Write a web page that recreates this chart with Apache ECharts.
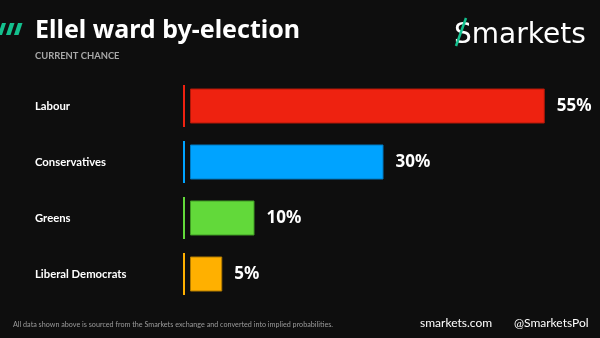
<!DOCTYPE html>
<html><head><meta charset="utf-8">
<script src="https://cdn.jsdelivr.net/npm/echarts@6/dist/echarts.min.js"></script>
<style>html,body{margin:0;padding:0;background:#0e0e0e;}#c{width:600px;height:338px;}</style>
</head><body><div id="c"></div>
<script>
const categories = ['Labour', 'Conservatives', 'Greens', 'Liberal Democrats'];
const values = [55, 30, 10, 5];
const colors = ['#ee2210', '#00a3ff', '#62d93a', '#ffb000'];
const borders = ['#b01808', '#0078bf', '#3f9a22', '#b07a00'];
const FONT = 'Lato';

const chart = echarts.init(document.getElementById('c'), null, {renderer: 'canvas'});
chart.setOption({
  backgroundColor: '#0e0e0e',
  animation: false,
  grid: {left: 190, top: 78, height: 224, width: 387},
  xAxis: {type: 'value', min: 0, max: 60, show: false},
  yAxis: {
    type: 'category', data: categories, inverse: true,
    axisLine: {show: false}, axisTick: {show: false},
    axisLabel: {align: 'left', margin: 155, color: '#ffffff', fontFamily: FONT, fontWeight: 'bold', fontSize: 11.3}
  },
  series: [
    {
      type: 'bar', data: values.map((v, i) => ({value: v, itemStyle: {color: colors[i], borderColor: borders[i], borderWidth: 1}})),
      barWidth: 35,
      label: {show: true, position: 'right', distance: 12, formatter: '{c}%', color: '#ffffff', fontFamily: 'Noto Sans', fontWeight: 'bold', fontSize: 17}
    },
    {
      type: 'custom',
      data: values.map((v, i) => [0, i]),
      encode: {x: 0, y: 1},
      renderItem: function (params, api) {
        const p = api.coord([0, api.value(1)]);
        return {type: 'rect', shape: {x: p[0] - 7, y: p[1] - 21, width: 2, height: 42}, style: {fill: colors[params.dataIndex]}};
      }
    }
  ],
  graphic: [
    {type: 'polygon', shape: {points: [[-2,35],[2,35],[6,23],[2,23]]}, style: {fill: '#14c08e'}},
    {type: 'polygon', shape: {points: [[6,35],[10.5,35],[14.5,23],[10,23]]}, style: {fill: '#14c08e'}},
    {type: 'polygon', shape: {points: [[14,35],[18.5,35],[22.5,23],[18,23]]}, style: {fill: '#14c08e'}},
    {type: 'text', left: 35, top: 18, style: {text: 'Ellel ward by-election', fill: '#ffffff', font: 'bold 25px "Noto Sans"'}},
    {type: 'text', left: 35, top: 51, style: {text: 'CURRENT CHANCE', fill: '#a8a8a8', font: 'bold 9.4px ' + FONT}},
    {type: 'text', left: 454, top: 22, style: {text: 'Smarkets', fill: '#ffffff', font: '28px "DejaVu Sans"'}},
    {type: 'line', shape: {x1: 456, y1: 46, x2: 466, y2: 18}, style: {stroke: '#14c08e', lineWidth: 2.5}},
    {type: 'text', left: 13, top: 321, style: {text: 'All data shown above is sourced from the Smarkets exchange and converted into implied probabilities.', fill: '#9a9a9a', font: '7.2px ' + FONT}},
    {type: 'text', left: 420, top: 317, style: {text: 'smarkets.com', fill: '#ffffff', font: '12px ' + FONT}},
    {type: 'text', left: 514, top: 317, style: {text: '@SmarketsPol', fill: '#ffffff', font: '12px ' + FONT}}
  ]
});
</script></body></html>
